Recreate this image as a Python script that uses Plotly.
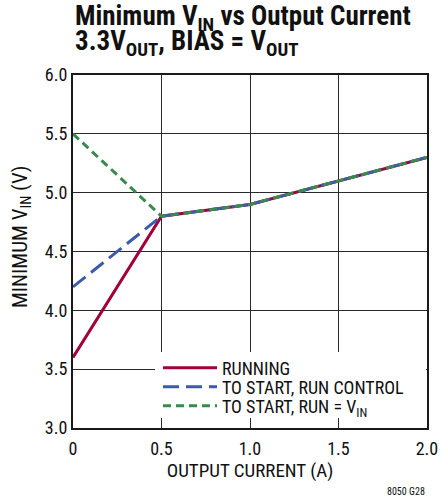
import plotly.graph_objects as go

current = [0, 0.5, 1.0, 1.5, 2.0]
running = [3.6, 4.8, 4.9, 5.1, 5.3]
start_run_control = [4.2, 4.8, 4.9, 5.1, 5.3]
start_run_vin = [5.5, 4.8, 4.9, 5.1, 5.3]

x_ticks = [0, 0.5, 1.0, 1.5, 2.0]
x_tick_text = ["0", "0.5", "1.0", "1.5", "2.0"]
y_ticks = [3.0, 3.5, 4.0, 4.5, 5.0, 5.5, 6.0]
y_tick_text = ["3.0", "3.5", "4.0", "4.5", "5.0", "5.5", "6.0"]

FONT = "Arial Narrow, Liberation Sans Narrow, Roboto Condensed, sans-serif"
TXT = "#111111"

fig = go.Figure()
fig.add_trace(go.Scatter(x=current, y=running, mode="lines", name="RUNNING",
                         line=dict(color="#a3003b", width=3), legend="legend"))
fig.add_trace(go.Scatter(x=current, y=start_run_control, mode="lines",
                         name="TO START, RUN CONTROL",
                         line=dict(color="#3b5bab", width=3, dash="16px,7px"), legend="legend2"))
fig.add_trace(go.Scatter(x=current, y=start_run_vin, mode="lines",
                         name="TO START, RUN = V<sub>IN</sub>",
                         line=dict(color="#3a8a4c", width=3, dash="8px,5px"), legend="legend3"))

axis_common = dict(showline=True, linecolor="#1a1a1a", linewidth=2, mirror=True,
                   showgrid=True, gridcolor="#2a2a2a", gridwidth=1.3,
                   zeroline=False, ticks="", automargin=False,
                   tickfont=dict(size=18, color=TXT, family=FONT))

fig.update_xaxes(range=[0, 2.0], tickvals=x_ticks, ticktext=x_tick_text,
                 ticklabelstandoff=3,
                 title=dict(text="OUTPUT CURRENT (A)", font=dict(size=19, family=FONT, color=TXT),
                            standoff=5),
                 **axis_common)
fig.update_yaxes(range=[3.0, 6.0], tickvals=y_ticks, ticktext=y_tick_text,
                 **axis_common)

def py(p):
    # pixel row -> paper y for plot area spanning rows 75..428
    return 1 + (75 - p) / 353.0

def px(p):
    # pixel column -> paper x for plot area spanning columns 73..427
    return (p - 73) / 354.0

leg_common = dict(xanchor="left", yanchor="middle", bgcolor="rgba(0,0,0,0)", borderwidth=0,
                  font=dict(size=18, family=FONT, color=TXT), itemwidth=54)

fig.update_layout(
    width=440, height=499,
    margin=dict(l=73, r=13, t=75, b=71),
    paper_bgcolor="white", plot_bgcolor="white",
    font=dict(family=FONT, color=TXT),
    showlegend=True,
    legend=dict(x=px(158), y=py(368), **leg_common),
    legend2=dict(x=px(158), y=py(387), **leg_common),
    legend3=dict(x=px(158), y=py(406), **leg_common),
    shapes=[dict(type="rect", xref="paper", yref="paper", layer="above",
                 x0=px(155), x1=px(426), y0=py(418), y1=py(352),
                 fillcolor="white", line=dict(width=0))],
    annotations=[
        dict(text="<b>Minimum V<sub>IN</sub> vs Output Current</b>", x=0, xref="paper",
             xanchor="left", y=py(18), yref="paper", yanchor="middle", showarrow=False,
             font=dict(size=27, family=FONT, color=TXT)),
        dict(text="<b>3.3V<sub>OUT</sub>, BIAS = V<sub>OUT</sub></b>", x=0, xref="paper",
             xanchor="left", y=py(43), yref="paper", yanchor="middle", showarrow=False,
             font=dict(size=27, family=FONT, color=TXT)),
        dict(text="MINIMUM V<sub>IN</sub> (V)", textangle=-90, x=px(21), xref="paper",
             xanchor="center", y=py(237), yref="paper", yanchor="middle", showarrow=False,
             font=dict(size=21, family=FONT, color=TXT)),
        dict(text="8050 G28", x=1.0, xref="paper", xanchor="right",
             y=py(491), yref="paper", yanchor="middle", showarrow=False,
             font=dict(size=10, family=FONT, color=TXT)),
    ],
)

fig.write_html("out.html", config={"displayModeBar": False},
               post_script="document.body.style.margin='0';")
